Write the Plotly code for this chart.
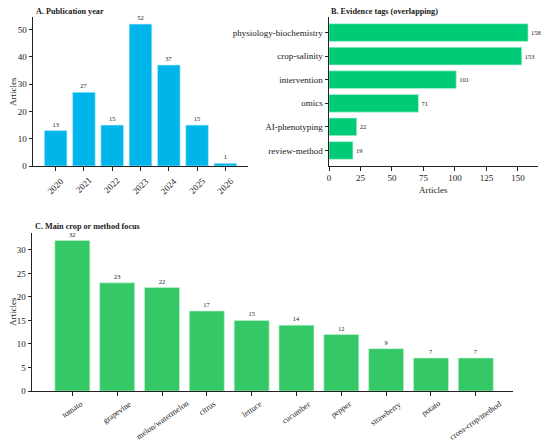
import plotly.graph_objects as go

# Panel A - publication year
years = ['2020', '2021', '2022', '2023', '2024', '2025', '2026']
year_counts = [13, 27, 15, 52, 37, 15, 1]

# Panel B - evidence tags (overlapping)
tags = ['physiology-biochemistry', 'crop-salinity', 'intervention', 'omics',
        'AI-phenotyping', 'review-method']
tag_counts = [158, 153, 101, 71, 22, 19]

# Panel C - main crop or method focus
crops = ['tomato', 'grapevine', 'melon/watermelon', 'citrus', 'lettuce',
         'cucumber', 'pepper', 'strawberry', 'potato', 'cross-crop/method']
crop_counts = [32, 23, 22, 17, 15, 14, 12, 9, 7, 7]

FONT = 'Liberation Serif'
AXCOL = '#222222'
# the page body keeps its default 8px margin, so shrink the figure to fit the window
OFF = 8
W, H = 550 - OFF, 444 - OFF
TICK = 9
LABEL = 6.5

def px_x(p):
    return (p - OFF) / W

def px_y(p):
    return 1 - (p - OFF) / H

fig = go.Figure()

fig.add_trace(go.Bar(
    x=years, y=year_counts, width=0.8,
    marker=dict(color='#00B5EA', line=dict(color='#BFEFFF', width=0.6)),
    text=year_counts, textposition='outside',
    textfont=dict(size=LABEL, color='#222'),
    xaxis='x', yaxis='y', cliponaxis=False, showlegend=False))

fig.add_trace(go.Bar(
    x=tag_counts, y=tags, orientation='h', width=0.75,
    marker=dict(color='#00CC78', line=dict(color='#BDF5DA', width=0.6)),
    text=tag_counts, textposition='outside',
    textfont=dict(size=LABEL, color='#222'),
    xaxis='x2', yaxis='y2', cliponaxis=False, showlegend=False))

fig.add_trace(go.Bar(
    x=crops, y=crop_counts, width=0.78,
    marker=dict(color='#34C866', line=dict(color='#C6F2D4', width=0.6)),
    text=crop_counts, textposition='outside',
    textfont=dict(size=LABEL, color='#222'),
    xaxis='x3', yaxis='y3', cliponaxis=False, showlegend=False))

axis_common = dict(showline=True, linecolor=AXCOL, linewidth=1, ticks='outside',
                   ticklen=3.5, tickcolor=AXCOL, showgrid=False, zeroline=False,
                   automargin=False, tickfont=dict(size=TICK, color='#222'))

# rotated category labels, centred under each tick like the original
annotations = []
for i, yr in enumerate(years):
    annotations.append(dict(text=yr, x=i, xref='x', y=px_y(174), yref='paper',
                            xanchor='center', yanchor='top', textangle=-45,
                            borderpad=0, showarrow=False, font=dict(size=TICK)))
for i, c in enumerate(crops):
    annotations.append(dict(text=c, x=i, xref='x3', y=px_y(398), yref='paper',
                            xanchor='center', yanchor='top', textangle=-35,
                            borderpad=0, showarrow=False, font=dict(size=8.2)))

# panel titles and axis titles
for txt, x, y in [('<b>A. Publication year</b>', 34, 12),
                  ('<b>B. Evidence tags (overlapping)</b>', 329, 12),
                  ('<b>C. Main crop or method focus</b>', 33, 226)]:
    annotations.append(dict(text=txt, x=px_x(x), y=px_y(y), xref='paper', yref='paper',
                            xanchor='left', yanchor='middle', showarrow=False,
                            font=dict(size=8.2)))
for x, y, ang in [(13, 92, -90), (13, 312, -90), (433, 190, 0)]:
    annotations.append(dict(text='Articles', x=px_x(x), y=px_y(y), xref='paper',
                            yref='paper', xanchor='center', yanchor='middle',
                            textangle=ang, showarrow=False, font=dict(size=TICK)))

fig.update_layout(
    width=W, height=H,
    margin=dict(l=0, r=0, t=0, b=0, autoexpand=False),
    paper_bgcolor='white', plot_bgcolor='white',
    font=dict(family=FONT, color='#222'),
    uniformtext=dict(minsize=6, mode='show'),
    xaxis=dict(domain=[px_x(33), px_x(248)], anchor='y', type='category',
               range=[-0.8, 6.8], showticklabels=False, **axis_common),
    yaxis=dict(domain=[px_y(166), px_y(17)], anchor='x', range=[0, 54.6],
               dtick=10, **axis_common),
    xaxis2=dict(domain=[px_x(329), px_x(538)], anchor='y2', range=[0, 165.9],
                dtick=25, **axis_common),
    yaxis2=dict(domain=[px_y(166), px_y(17)], anchor='x2', type='category',
                autorange=False, range=[5.66, -0.66], **axis_common),
    xaxis3=dict(domain=[px_x(32), px_x(513)], anchor='y3', type='category',
                range=[-0.9, 9.83], showticklabels=False, **axis_common),
    yaxis3=dict(domain=[px_y(391), px_y(233)], anchor='x3', range=[0, 33.6],
                dtick=5, **axis_common),
    annotations=annotations,
)

fig.write_html("out.html")
